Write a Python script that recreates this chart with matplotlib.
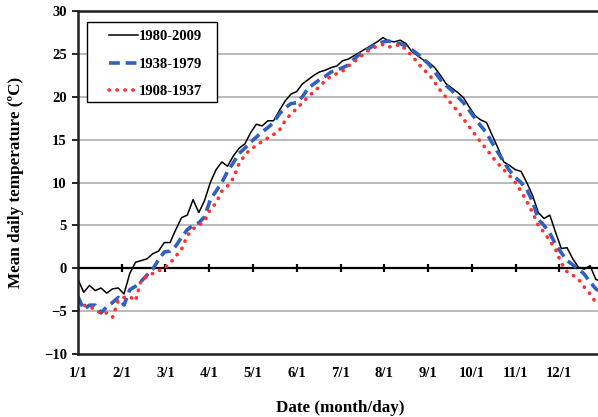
import numpy as np
import matplotlib.pyplot as plt
from matplotlib.patches import Rectangle

# mean daily temperature, sampled every 4 days of the year (day 0 = 1 Jan)
days = np.arange(0, 365, 4)

t_1980_2009 = [
    -1.3, -2.8, -2.0, -2.6, -2.3, -2.9, -2.4, -2.3, -3.0, -0.6,
    0.7, 0.9, 1.1, 1.7, 2.0, 3.0, 3.0, 4.5, 5.9, 6.2,
    8.0, 6.5, 7.9, 10.0, 11.5, 12.4, 11.9, 13.1, 14.0, 14.5,
    15.8, 16.8, 16.6, 17.2, 17.2, 18.4, 19.5, 20.3, 20.6, 21.5,
    22.0, 22.5, 22.9, 23.1, 23.4, 23.6, 24.2, 24.4, 24.8, 25.2,
    25.6, 26.0, 26.4, 26.9, 26.5, 26.4, 26.6, 26.2, 25.3, 24.8,
    24.3, 24.0, 23.4, 22.5, 21.5, 21.0, 20.5, 19.9, 18.8, 17.8,
    17.3, 17.0, 15.5, 14.0, 12.4, 12.0, 11.5, 11.3, 10.0, 8.5,
    6.5, 5.8, 6.2, 4.2, 2.3, 2.4, 1.1, 0.1, -0.1, 0.3,
    -1.3, -1.5,
]

t_1938_1979 = [
    -3.3, -4.8, -4.3, -4.3, -5.2, -4.5, -4.0, -3.4, -4.3, -2.5,
    -2.1, -1.5, -0.8, -0.1, 1.0, 1.9, 2.0, 2.6, 3.6, 4.5,
    5.0, 5.3, 6.0, 8.0, 9.0, 10.0, 11.3, 12.3, 13.4, 14.0,
    14.7, 15.3, 15.9, 16.4, 17.0, 18.0, 18.7, 19.2, 19.3, 20.0,
    21.0, 21.5, 22.0, 22.4, 22.9, 23.1, 23.4, 23.7, 24.4, 25.0,
    25.4, 25.8, 26.1, 26.4, 26.5, 26.3, 26.2, 25.9, 25.5, 25.0,
    24.4, 23.8, 22.9, 22.0, 21.3, 20.7, 20.0, 19.3, 18.4, 17.5,
    16.6, 15.8, 14.6, 13.5, 12.4, 11.4, 10.6, 10.0, 9.2, 7.8,
    5.7, 5.0, 4.1, 2.8, 1.8, 0.9, 0.4, -0.1, -0.7, -1.6,
    -2.4, -2.8,
]

t_1908_1937 = [
    -4.8, -4.3, -4.5, -4.8, -5.3, -5.2, -5.7, -3.8, -3.4, -3.3,
    -3.8, -1.3, -1.0, -0.6, -0.3, 0.0, 0.6, 1.4, 2.2, 3.8,
    4.6, 5.0, 5.5, 6.9, 7.6, 9.0, 9.6, 10.5, 12.2, 13.2,
    13.9, 14.3, 14.8, 15.2, 15.6, 16.1, 17.2, 18.0, 18.6, 19.3,
    20.0, 20.6, 21.2, 21.9, 22.4, 22.7, 23.0, 23.6, 24.1, 24.6,
    25.2, 25.6, 25.9, 26.1, 25.8, 25.9, 26.1, 25.5, 24.8, 24.0,
    23.2, 22.6, 21.7, 20.7, 19.9, 19.1, 18.3, 17.4, 16.5, 15.6,
    14.7, 13.9, 13.0, 12.2, 11.5, 10.8, 10.0, 9.0, 7.8, 6.5,
    5.0, 4.2, 3.2, 2.2, 0.6, -0.4, -0.8, -1.3, -2.2, -3.0,
    -4.0, -3.6,
]

month_labels = ['1/1', '2/1', '3/1', '4/1', '5/1', '6/1',
                '7/1', '8/1', '9/1', '10/1', '11/1', '12/1']
month_pos = np.arange(12) * 365 / 12

serif = 'Liberation Serif'
plt.rcParams['font.family'] = serif

fig = plt.figure(figsize=(5.98, 4.17), dpi=100)
ax = fig.add_axes([0.1304, 0.151, 0.878, 0.8226])

ax.plot(days, t_1980_2009, color='black', lw=1.1, label='1980-2009')
ax.plot(days, t_1938_1979, color='#3060c0', lw=2.6, ls=(0, (3, 1.6)),
        label='1938-1979')
ax.plot(days, t_1908_1937, color='#ff3030', lw=2.6, ls=(0, (0.1, 2.1)),
        dash_capstyle='round', label='1908-1937')

ax.set_xlim(0, 365)
ax.set_ylim(-10, 30)
ax.set_yticks(range(-10, 31, 5))
ax.set_xticks(month_pos)
ax.set_xticklabels(month_labels)

# grid lines and the zero axis with its month ticks
for yv in range(-5, 30, 5):
    if yv != 0:
        ax.axhline(yv, color='#b4b4b4', lw=1.3, zorder=0)
ax.axhline(0, color='black', lw=1.6, zorder=1)
ax.vlines(month_pos, -0.45, 0.45, color='black', lw=1.6, zorder=1)

for s in ['left', 'top', 'bottom']:
    ax.spines[s].set_linewidth(1.8)
    ax.spines[s].set_color('#202020')
ax.spines['right'].set_visible(False)

ax.tick_params(axis='x', length=0, pad=9)
ax.tick_params(axis='y', length=4, width=1.2, direction='out', pad=4)
for lab in ax.get_xticklabels() + ax.get_yticklabels():
    lab.set_fontweight('bold')
    lab.set_fontsize(10.5)

ax.set_ylabel('Mean daily temperature (ºC)', fontsize=12.3, fontweight='bold',
              labelpad=14)
ax.set_xlabel('Date (month/day)', fontsize=12.3, fontweight='bold', labelpad=15)

# legend box drawn separately so its padding can differ left/right and top/bottom
ax.add_patch(Rectangle((0.0171, 0.7347), 0.2476, 0.2333, transform=ax.transAxes,
                       facecolor='white', edgecolor='black', lw=1.0, zorder=5))
leg = ax.legend(loc='upper left', bbox_to_anchor=(0.059, 0.944), frameon=False,
                handlelength=2.0, handletextpad=0.05, labelspacing=0.97,
                borderpad=0, borderaxespad=0,
                prop={'family': serif, 'weight': 'bold', 'size': 10.5})
leg.set_zorder(6)

fig.savefig('out.png', dpi=100)
